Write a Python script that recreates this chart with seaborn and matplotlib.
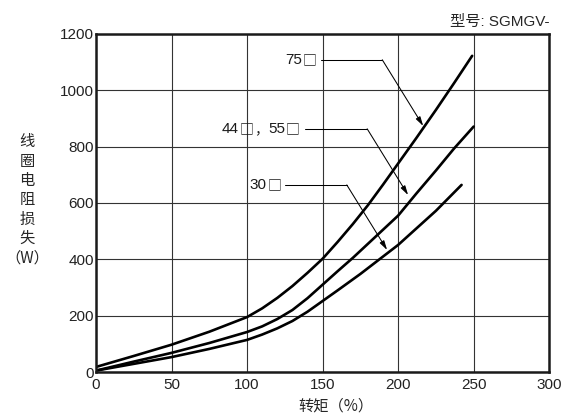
import re
import matplotlib
matplotlib.use("Agg")
import matplotlib.pyplot as plt
import pandas as pd
import seaborn as sns
from matplotlib.offsetbox import TextArea, HPacker, AnnotationBbox

# curve data (torque %, coil resistance loss W)
torque_75 = [0, 25, 50, 75, 100, 110, 120, 130, 140, 150, 160, 170, 180, 190, 200, 212, 225, 237, 249]
loss_75 = [18, 57, 97, 143, 195, 226, 263, 305, 352, 402, 462, 525, 592, 665, 740, 830, 930, 1025, 1122]

torque_55 = [0, 25, 50, 75, 100, 110, 120, 130, 140, 150, 160, 170, 180, 190, 200, 212, 225, 237, 250]
loss_55 = [5, 37, 68, 103, 142, 162, 188, 220, 262, 310, 358, 405, 455, 505, 555, 633, 715, 793, 871]

torque_30 = [0, 25, 50, 75, 100, 110, 120, 130, 140, 150, 160, 175, 200, 225, 242]
loss_30 = [5, 29, 53, 82, 114, 133, 155, 181, 214, 252, 290, 348, 451, 572, 664]

series_names = ["75", "44/55", "30"]

# callouts: label, label y, text end x, line start x, bend x, arrow tip (x, y)
callout_labels = ["75□", "44□，55□", "30□"]
callout_y = [1108, 863, 664]
callout_text_x = [146, 135, 122.5]
callout_start_x = [149, 138.5, 125]
callout_bend_x = [189.5, 179.5, 166]
callout_tip = [(216.6, 873), (206.6, 628), (192.7, 433)]

x_ticks = [0, 50, 100, 150, 200, 250, 300]
y_ticks = [0, 200, 400, 600, 800, 1000, 1200]

sns.set_style("white")
plt.rcParams['font.family'] = ['Liberation Sans', 'Noto Sans CJK SC', 'DejaVu Sans']
latin = ['Liberation Sans', 'DejaVu Sans']
cjk = ['Noto Sans CJK SC', 'DejaVu Sans']

frames = []
for name, xs, ys in zip(series_names, [torque_75, torque_55, torque_30], [loss_75, loss_55, loss_30]):
    frames.append(pd.DataFrame({'torque': xs, 'loss': ys, 'model': name}))
df = pd.concat(frames, ignore_index=True)

fig, ax = plt.subplots(figsize=(5.65, 4.18), dpi=100)
fig.subplots_adjust(left=0.170, right=0.972, bottom=0.110, top=0.919)

sns.lineplot(data=df, x='torque', y='loss', hue='model', palette=['black'] * 3,
             estimator=None, sort=False, lw=1.9, legend=False, ax=ax)

ax.set_xlim(0, 300)
ax.set_ylim(0, 1200)
ax.set_xticks(x_ticks)
ax.set_yticks(y_ticks)
ax.tick_params(axis='both', length=0, labelsize=11, colors='#222222')
ax.tick_params(axis='x', pad=4)
ax.tick_params(axis='y', pad=1.5)
ax.grid(True, color='#333333', lw=0.8)
ax.set_axisbelow(True)
for sp in ax.spines.values():
    sp.set_linewidth(1.8)
    sp.set_color('#1a1a1a')

ax.set_xlabel("转矩（%）", fontsize=11, labelpad=4, family=cjk)
ax.xaxis.label.set_x(0.53)
ax.set_ylabel("")
fig.text(0.048, 0.522, "线\n圈\n电\n阻\n损\n失\n（W）", ha='center', va='center',
         fontsize=11, linespacing=1.18, family=cjk)
ax.set_title("型号: SGMGV-", loc='right', fontsize=11, pad=6,
             family=['Liberation Sans', 'Noto Sans CJK SC'])


def mixed_label(text):
    # digits in a Helvetica-like face, box and comma from the CJK face
    parts = re.findall(r'[0-9]+|[^0-9]', text)
    boxes = []
    for p in parts:
        if p.isdigit():
            props = dict(fontsize=11, family=latin)
        else:
            props = dict(fontsize=10, family=cjk)
        props['color'] = '#1a1a1a'
        boxes.append(TextArea(p, textprops=props))
    return HPacker(children=boxes, pad=0, sep=0.5, align='center')


for lab, y, tx, sx, bx, tip in zip(callout_labels, callout_y, callout_text_x,
                                   callout_start_x, callout_bend_x, callout_tip):
    ab = AnnotationBbox(mixed_label(lab), (tx, y), xycoords='data',
                        box_alignment=(1, 0.5), frameon=False, pad=0)
    ax.add_artist(ab)
    ax.plot([sx, bx], [y, y], color='black', lw=0.75)
    ax.annotate("", xy=tip, xytext=(bx, y),
                arrowprops=dict(arrowstyle="-|>,head_length=0.55,head_width=0.15",
                                color='black', lw=0.75, shrinkA=0, shrinkB=0))

fig.savefig("out.png", dpi=100)
